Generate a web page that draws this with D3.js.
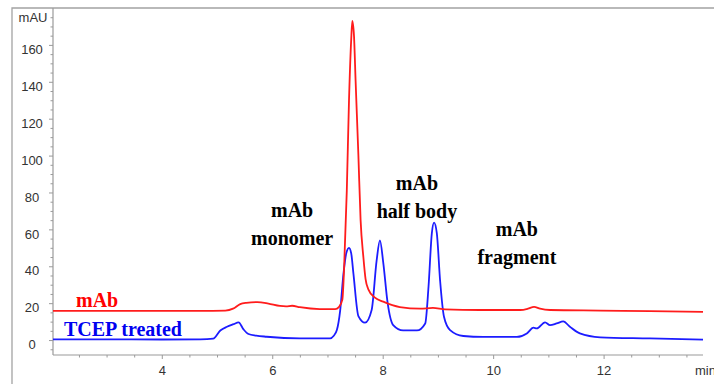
<!DOCTYPE html>
<html>
<head>
<meta charset="utf-8">
<script src="https://cdn.jsdelivr.net/npm/d3@7"></script>
<style>
  html, body { margin: 0; padding: 0; background: #fff; }
  svg { display: block; }
</style>
</head>
<body>
<svg id="chart" width="714" height="384"></svg>
<script>
// Retention time (min) and absorbance (mAU) for the untreated antibody trace
const mabTime = [2.03, 3.0, 4.0, 4.69, 5.15, 5.29, 5.42, 5.53, 5.73, 5.93, 6.14, 6.25, 6.36, 6.50,
  6.86, 7.14, 7.21, 7.27, 7.30, 7.35, 7.39, 7.43, 7.45, 7.48, 7.51, 7.56, 7.60, 7.65, 7.69, 7.74,
  7.86, 8.01, 8.31, 8.68, 8.91, 9.13, 9.76, 10.49, 10.63, 10.74, 10.85, 11.03, 11.94, 12.84, 13.80];
const mabSignal = [15.8, 15.8, 15.8, 15.8, 16.0, 17.0, 19.5, 20.2, 20.6, 19.8, 18.5, 18.3, 18.6, 17.8,
  16.8, 16.8, 18.0, 22.0, 38.0, 81.0, 130.0, 163.0, 173.0, 165.0, 140.0, 100.0, 65.0, 45.0, 33.0, 27.5,
  23.0, 20.8, 17.9, 17.0, 17.4, 16.6, 16.3, 16.3, 17.0, 18.0, 17.0, 16.3, 16.0, 15.7, 15.3];

// Retention time (min) and absorbance (mAU) for the TCEP-reduced trace
const tcepTime = [2.03, 3.0, 4.0, 4.7, 4.93, 5.06, 5.18, 5.30, 5.39, 5.48, 5.57, 5.71, 5.90, 6.50,
  7.05, 7.11, 7.17, 7.23, 7.29, 7.34, 7.39, 7.43, 7.47, 7.56, 7.68, 7.80, 7.89, 7.95, 8.01, 8.09,
  8.19, 8.37, 8.62, 8.77, 8.83, 8.89, 8.93, 8.98, 9.04, 9.11, 9.22, 9.46, 9.82, 10.43, 10.61, 10.73,
  10.79, 10.94, 11.03, 11.15, 11.27, 11.39, 11.57, 11.94, 12.84, 13.80];
const tcepSignal = [0.4, 0.4, 0.3, 0.4, 0.8, 5.2, 7.2, 8.6, 9.6, 5.8, 3.3, 2.4, 1.8, 0.9,
  0.9, 2.2, 5.4, 16.0, 36.0, 47.0, 50.0, 47.0, 36.0, 13.0, 9.4, 16.3, 43.0, 54.0, 42.0, 20.0,
  8.1, 5.2, 5.2, 9.0, 29.0, 58.0, 63.7, 58.0, 32.0, 12.6, 5.4, 2.2, 1.7, 1.7, 3.6, 6.7,
  6.3, 9.6, 8.1, 9.0, 10.1, 7.2, 3.6, 1.5, 0.9, 0.2];

// Axis ticks
const xMajorTicks = [4, 6, 8, 10, 12];
const yMajorTicks = [0, 20, 40, 60, 80, 100, 120, 140, 160];

// Peak annotations: two lines of text each
const peakLabelLines = [["mAb", "monomer"], ["mAb", "half body"], ["mAb", "fragment"]];
const peakLabelTimes = [6.36, 8.62, 10.43];
const peakLabelLevels = [66.5, 81.5, 56.5];

// Trace labels
const traceNames = ["mAb", "TCEP treated"];

const svg = d3.select("#chart");
const W = 714, H = 384;
const plotLeft = 53, plotRight = 703, plotTop = 8, plotBottom = 355;

const x = d3.scaleLinear().domain([2.03, 13.8]).range([plotLeft, plotRight]);
const y = d3.scaleLinear().domain([-8.1, 180]).range([plotBottom, plotTop]);

const axisGrey = "#9a9a9a";
const labelColor = "#333";

// Outer frame (left and top edges)
svg.append("path")
  .attr("d", `M12,${H} L12,8 L${W},8`)
  .attr("fill", "none")
  .attr("stroke", "#a3a3a3")
  .attr("stroke-width", 1.3);

// Minor ticks
const yMinor = d3.range(-5, 181, 5).filter(v => v % 20 !== 0);
const xMinor = d3.range(2.5, 13.8, 0.5).filter(v => !xMajorTicks.includes(v));

const yMinorAxis = d3.axisLeft(y).tickValues(yMinor).tickSize(2.5).tickFormat("");
const xMinorAxis = d3.axisBottom(x).tickValues(xMinor).tickSize(2.5).tickFormat("");

const gYm = svg.append("g").attr("transform", `translate(${plotLeft},0)`).call(yMinorAxis);
const gXm = svg.append("g").attr("transform", `translate(0,${plotBottom})`).call(xMinorAxis);
[gYm, gXm].forEach(g => {
  g.select(".domain").remove();
  g.selectAll(".tick line").attr("stroke", axisGrey);
});

// Major axes
const yAxis = d3.axisLeft(y).tickValues(yMajorTicks).tickSize(4).tickSizeOuter(0);
const xAxis = d3.axisBottom(x).tickValues(xMajorTicks).tickSize(4).tickSizeOuter(0);

const gY = svg.append("g").attr("transform", `translate(${plotLeft},0)`).call(yAxis);
const gX = svg.append("g").attr("transform", `translate(0,${plotBottom})`).call(xAxis);

[gY, gX].forEach(g => {
  g.select(".domain").attr("stroke", axisGrey).attr("stroke-width", 1.2);
  g.selectAll(".tick line").attr("stroke", axisGrey);
  g.selectAll(".tick text")
    .attr("fill", labelColor)
    .style("font-family", "'Liberation Sans', Arial, sans-serif")
    .style("font-size", "13px");
});
gY.select(".domain").attr("d", `M0,${y.range()[0]}V${y.range()[1]}`);
gX.select(".domain").attr("d", `M${x.range()[0]},0H${x.range()[1]}`);

gY.selectAll(".tick text").attr("x", -21).attr("dy", "0.67em").attr("text-anchor", "middle");
gX.selectAll(".tick text").attr("y", 11).attr("dy", "0.71em");

// Axis unit labels
svg.append("text")
  .attr("x", 33).attr("y", 21.5)
  .attr("text-anchor", "middle")
  .attr("fill", labelColor)
  .style("font-family", "'Liberation Sans', Arial, sans-serif")
  .style("font-size", "13px")
  .text("mAU");

// Time unit sits at the right end of the axis, running past the frame edge
svg.append("text")
  .attr("x", 695).attr("y", 375)
  .attr("fill", labelColor)
  .style("font-family", "'Liberation Sans', Arial, sans-serif")
  .style("font-size", "13px")
  .text("min");

// Traces
const line = d3.line()
  .x(d => x(d[0]))
  .y(d => y(d[1]))
  .curve(d3.curveMonotoneX);

const mabData = mabTime.map((t, i) => [t, mabSignal[i]]);
const tcepData = tcepTime.map((t, i) => [t, tcepSignal[i]]);

svg.append("path")
  .datum(tcepData)
  .attr("d", line)
  .attr("fill", "none")
  .attr("stroke", "#1c1cff")
  .attr("stroke-width", 1.8)
  .attr("stroke-linejoin", "round");

svg.append("path")
  .datum(mabData)
  .attr("d", line)
  .attr("fill", "none")
  .attr("stroke", "#ff1c1c")
  .attr("stroke-width", 1.8)
  .attr("stroke-linejoin", "round");

// Trace names
const serif = "'Liberation Serif', 'Times New Roman', serif";
svg.append("text")
  .attr("x", 76).attr("y", 307)
  .attr("fill", "#f00")
  .style("font-family", serif).style("font-size", "20px").style("font-weight", "bold")
  .text(traceNames[0]);
svg.append("text")
  .attr("x", 64).attr("y", 335.5)
  .attr("fill", "#0000f0")
  .style("font-family", serif).style("font-size", "20px").style("font-weight", "bold")
  .text(traceNames[1]);

// Peak annotations
peakLabelLines.forEach((lines, i) => {
  const t = svg.append("text")
    .attr("x", x(peakLabelTimes[i]))
    .attr("y", y(peakLabelLevels[i]))
    .attr("text-anchor", "middle")
    .attr("fill", "#000")
    .style("font-family", serif).style("font-size", "20px").style("font-weight", "bold");
  lines.forEach((s, j) => {
    t.append("tspan")
      .attr("x", x(peakLabelTimes[i]))
      .attr("dy", j === 0 ? 0 : 28)
      .text(s);
  });
});
</script>
</body>
</html>
